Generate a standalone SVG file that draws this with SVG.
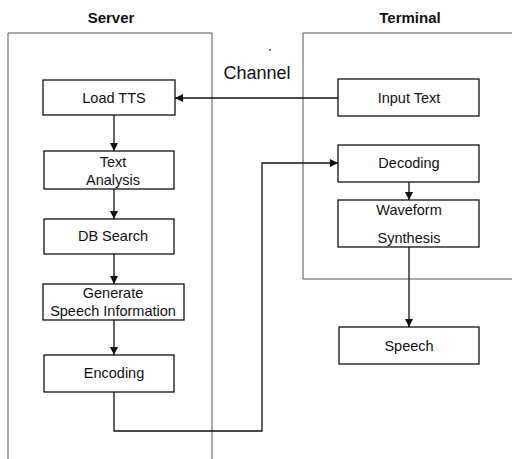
<svg xmlns="http://www.w3.org/2000/svg" width="512" height="459" viewBox="0 0 512 459">
<defs>
<style>
.container{fill:none;stroke:#555;stroke-width:1}
.box{fill:#fff;stroke:#111;stroke-width:1.3}
.lbl{font-family:"Liberation Sans",Arial,sans-serif;font-size:14.5px;fill:#111;text-anchor:middle}
.title{font-family:"Liberation Sans",Arial,sans-serif;font-size:15px;font-weight:bold;fill:#111;text-anchor:middle}
.conn{fill:none;stroke:#111;stroke-width:1.3}
</style>
<marker id="ah" viewBox="0 0 10 10" refX="10" refY="5" markerWidth="9" markerHeight="8" markerUnits="userSpaceOnUse" orient="auto">
<path d="M0,0 L10,5 L0,10 z" fill="#111"/>
</marker>
</defs>
<rect width="512" height="459" fill="#fff"/>
<g id="server-container">
<path class="container" d="M8,470 V33 H212 V470"/>
<text class="title" x="111" y="23">Server</text>
</g>
<g id="terminal-container">
<path class="container" d="M520,33 H303 V279 H520"/>
<text class="title" x="410" y="23">Terminal</text>
</g>
<g id="channel-label">
<text x="257" y="79" font-family="'Liberation Sans',Arial,sans-serif" font-size="18" fill="#111" text-anchor="middle">Channel</text>
<circle cx="270" cy="50" r="0.9" fill="#333"/>
</g>
<g id="connectors">
<line class="conn" x1="338" y1="98" x2="175" y2="98" marker-end="url(#ah)"/>
<line class="conn" x1="114" y1="115" x2="114" y2="151" marker-end="url(#ah)"/>
<line class="conn" x1="114" y1="189" x2="114" y2="219" marker-end="url(#ah)"/>
<line class="conn" x1="114" y1="254" x2="114" y2="284" marker-end="url(#ah)"/>
<line class="conn" x1="114" y1="320" x2="114" y2="355" marker-end="url(#ah)"/>
<path class="conn" d="M114,392 V431 H262 V163 H338" marker-end="url(#ah)"/>
<line class="conn" x1="409" y1="182" x2="409" y2="200" marker-end="url(#ah)"/>
<line class="conn" x1="409" y1="247" x2="409" y2="327" marker-end="url(#ah)"/>
</g>
<g id="load-tts">
<rect class="box" x="43" y="80" width="132" height="35"/>
<text class="lbl" x="114" y="103">Load TTS</text>
</g>
<g id="text-analysis">
<rect class="box" x="44" y="151" width="130" height="38"/>
<text class="lbl" x="113" y="167">Text</text>
<text class="lbl" x="113" y="185">Analysis</text>
</g>
<g id="db-search">
<rect class="box" x="44" y="219" width="130" height="35"/>
<text class="lbl" x="113" y="241">DB Search</text>
</g>
<g id="generate-speech-information">
<rect class="box" x="43" y="284" width="141" height="36"/>
<text class="lbl" x="113" y="298">Generate</text>
<text class="lbl" x="113" y="316">Speech Information</text>
</g>
<g id="encoding">
<rect class="box" x="44" y="355" width="130" height="37"/>
<text class="lbl" x="114" y="378">Encoding</text>
</g>
<g id="input-text">
<rect class="box" x="338" y="79" width="141" height="37"/>
<text class="lbl" x="409" y="103">Input Text</text>
</g>
<g id="decoding">
<rect class="box" x="338" y="145" width="141" height="37"/>
<text class="lbl" x="409" y="168">Decoding</text>
</g>
<g id="waveform-synthesis">
<rect class="box" x="338" y="200" width="141" height="47"/>
<text class="lbl" x="409" y="215">Waveform</text>
<text class="lbl" x="409" y="243">Synthesis</text>
</g>
<g id="speech">
<rect class="box" x="339" y="327" width="140" height="37"/>
<text class="lbl" x="409" y="351">Speech</text>
</g>
</svg>
